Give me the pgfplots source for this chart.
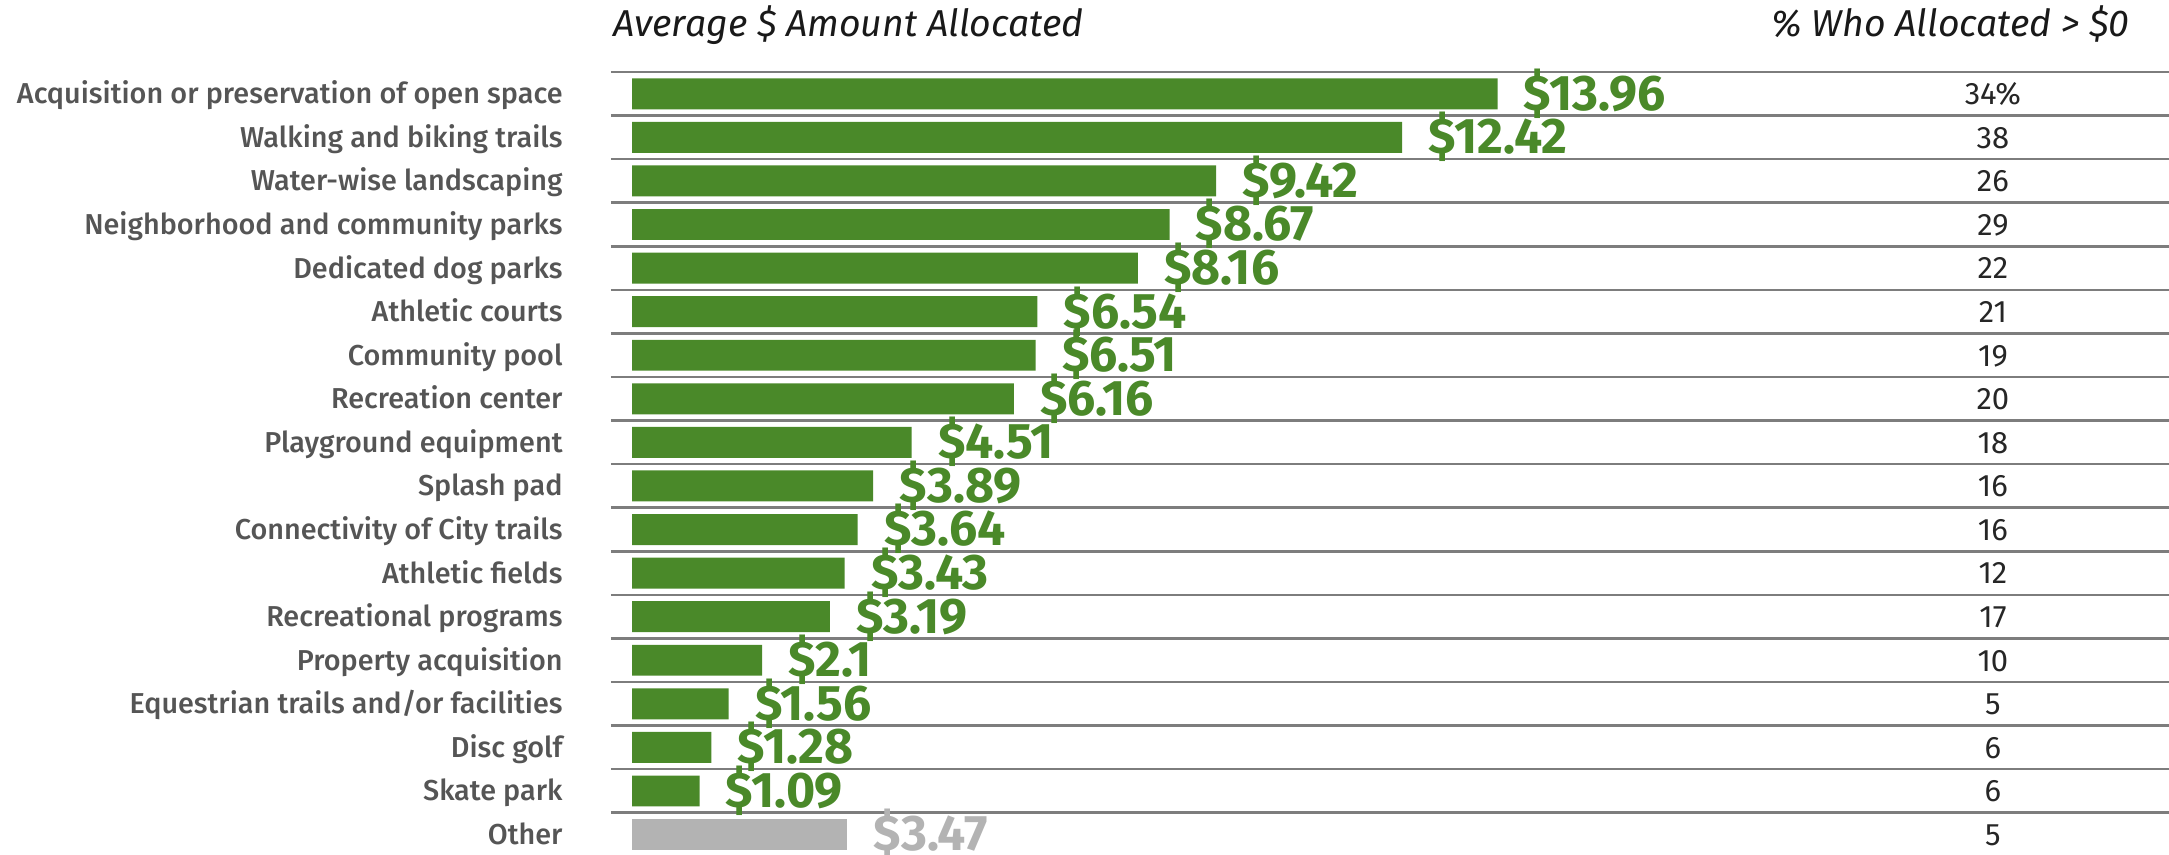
\documentclass[border=0pt]{standalone}
\usepackage{fontspec}
\setmainfont{Fira Sans}
\newfontfamily\catfont{Fira Sans Medium}
\usepackage{pgfplots}
\pgfplotsset{compat=1.18}

\definecolor{barGreen}{RGB}{74,137,41}
\definecolor{barGray}{RGB}{179,179,179}
\definecolor{labelGray}{RGB}{85,85,85}
\definecolor{ruleGray}{RGB}{125,125,125}

\pgfplotsset{
  dollar labels/.style={
    point meta=x,
    nodes near coords={\$\pgfmathprintnumber[assume math mode=true]{\pgfplotspointmeta}},
    nodes near coords style={font=\bfseries\fontsize{25}{26}\selectfont,
      text=#1, anchor=base west, inner sep=0pt, xshift=13pt, yshift=-8.2pt},
  },
}

\begin{document}
\begin{tikzpicture}
% 1px of the reference = 0.5pt
\useasboundingbox (-305.5pt,0) rectangle (779pt,427.3pt);
\begin{axis}[
  name=main,
  scale only axis,
  width=779pt, height=391.3pt,
  xmin=-0.339, xmax=24.79,
  ymin=-0.5, ymax=17.46,
  y dir=reverse,
  axis line style={draw=none},
  xtick=\empty,
  ytick={0,...,17},
  yticklabels={Acquisition or preservation of open space, Walking and biking trails,
    Water-wise landscaping, Neighborhood and community parks, Dedicated dog parks,
    Athletic courts, Community pool, Recreation center, Playground equipment,
    Splash pad, Connectivity of City trails, Athletic fields, Recreational programs,
    Property acquisition, Equestrian trails and/or facilities, Disc golf,
    Skate park, Other},
  major tick length=0pt,
  minor tick length=0pt,
  yticklabel style={font=\catfont\fontsize{14.4}{16}\selectfont, text=labelGray,
    anchor=base east, inner sep=0pt, xshift=-24pt, yshift=-5pt},
  minor ytick={-0.5,0.5,...,16.5},
  yminorgrids,
  minor y grid style={ruleGray, line width=1.3pt},
  clip=false,
  bar width=0.71,
]
\addplot[xbar, bar shift=0pt, fill=barGreen, draw=none, dollar labels=barGreen]
  coordinates {(13.96,0) (12.42,1) (9.42,2) (8.67,3) (8.16,4) (6.54,5) (6.51,6)
    (6.16,7) (4.51,8) (3.89,9) (3.64,10) (3.43,11) (3.19,12) (2.1,13) (1.56,14)
    (1.28,15) (1.09,16)};
\addplot[xbar, bar shift=0pt, fill=barGray, draw=none, dollar labels=barGray]
  coordinates {(3.47,17)};
% share of respondents who allocated more than $0
\addplot[draw=none, mark=none, point meta=explicit symbolic, nodes near coords,
  nodes near coords style={font=\fontsize{15.5}{17}\selectfont, text=black!85,
    anchor=base, inner sep=0pt, yshift=-5.4pt}]
  coordinates {(21.95,0) [34\%] (21.95,1) [38] (21.95,2) [26] (21.95,3) [29]
    (21.95,4) [22] (21.95,5) [21] (21.95,6) [19] (21.95,7) [20] (21.95,8) [18]
    (21.95,9) [16] (21.95,10) [16] (21.95,11) [12] (21.95,12) [17] (21.95,13) [10]
    (21.95,14) [5] (21.95,15) [6] (21.95,16) [6] (21.95,17) [5]};
\end{axis}
\node[anchor=base west, inner sep=0pt, font=\itshape\fontsize{18.7}{20}\selectfont, text=black!90]
  at ([xshift=1pt, yshift=17.5pt]main.north west) {Average \$ Amount Allocated};
\node[anchor=base east, inner sep=0pt, font=\itshape\fontsize{18.7}{20}\selectfont, text=black!90]
  at ([xshift=-19.5pt, yshift=17.5pt]main.north east) {\% Who Allocated > \$0};
\end{tikzpicture}
\end{document}
